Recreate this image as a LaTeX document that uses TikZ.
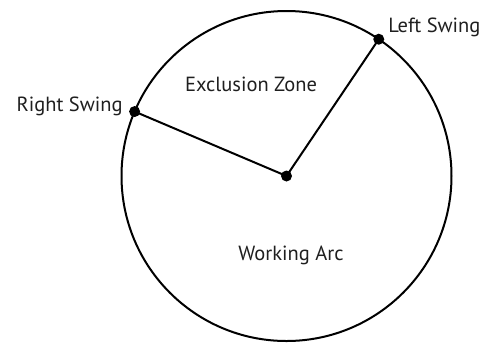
\documentclass[tikz,border=0pt]{standalone}
\usepackage{fontspec}
\setmainfont{PT Sans}
\usetikzlibrary{positioning}

\begin{document}
\begin{tikzpicture}[
  x=0.6pt, y=-0.6pt,
  font=\fontsize{12.3}{14}\selectfont,
  ring/.style  ={circle, draw=black, line width=1.2pt, minimum size=198pt,
                 inner sep=0pt, outer sep=0pt},
  pin/.style   ={circle, fill=black, minimum size=6.6pt, inner sep=0pt},
  lbl/.style   ={inner sep=0pt, text=black!88},
  arm/.style   ={draw=black, line width=1.2pt},
]
\useasboundingbox (0,0) rectangle (497,342);

% --- Swing circle and pivot ---
\node[ring] (swing) at (286.5,176) {};
\node[pin]  (piv)   at (286.5,176) {};

% --- Swing limits on the circle ---
\node[pin]  (lsw) at (swing.56.4)  {};
\node[pin]  (rsw) at (swing.157.1) {};

% --- Arms ---
\draw[arm] (piv.center) -- (lsw.center);
\draw[arm] (piv.center) -- (rsw.center);

% --- Labels ---
\node[lbl, anchor=west] (lswl) at (388,27)  {Left Swing};
\node[lbl, anchor=east] (rswl) at (123,106) {Right Swing};
\node[lbl] (excl) at (251,84)  {Exclusion Zone};
\node[lbl] (work) at (291,255) {Working Arc};
\end{tikzpicture}
\end{document}
